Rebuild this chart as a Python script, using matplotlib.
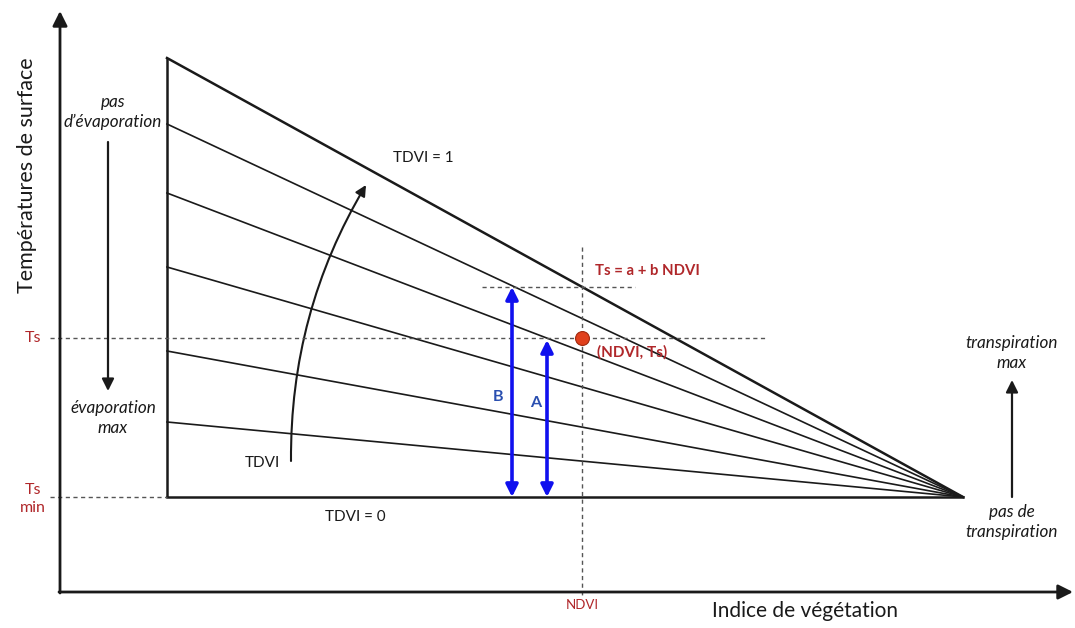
import matplotlib
matplotlib.use("Agg")
import matplotlib.pyplot as plt
from matplotlib.patches import FancyArrowPatch

plt.rcParams['font.family'] = ['Lato', 'DejaVu Sans']

# ---- diagram geometry (pixel-like units, y downwards) ----
left_x = 167
apex = (963, 497)
top_y = 58
isoline_left_y = [124, 193, 267, 351, 422]   # intermediate TDVI isolines at left edge
ts_y = 338          # observed Ts level
tsmin_y = 497       # Ts min level
ndvi_x = 582        # observed NDVI
b_top_y = 287       # top of arrow B (dry edge at NDVI)
a_top_y = 340       # top of arrow A
b_x, a_x = 512, 547

axis_origin = (60, 592)
axis_x_end = 1073
axis_y_end = 11

fig = plt.figure(figsize=(10.75, 6.28), dpi=100)
ax = fig.add_axes([0, 0, 1, 1])
ax.set_xlim(0, 1075)
ax.set_ylim(628, 0)
ax.axis('off')

K = '#1a1a1a'
RED = '#b0272a'
BLUE = '#1010ee'

# axes arrows
ax.annotate('', xy=(axis_origin[0], axis_y_end), xytext=(axis_origin[0], axis_origin[1] + 1),
            arrowprops=dict(arrowstyle='-|>', color=K, lw=2, mutation_scale=22, shrinkA=0, shrinkB=0))
ax.annotate('', xy=(axis_x_end, axis_origin[1]), xytext=(axis_origin[0] - 1, axis_origin[1]),
            arrowprops=dict(arrowstyle='-|>', color=K, lw=2, mutation_scale=22, shrinkA=0, shrinkB=0))

# triangle
ax.plot([left_x, left_x], [top_y, tsmin_y], color=K, lw=1.8, solid_capstyle='butt')
ax.plot([left_x, apex[0]], [tsmin_y, apex[1]], color=K, lw=1.8)
ax.plot([left_x, apex[0]], [top_y, apex[1]], color=K, lw=1.8)
for y in isoline_left_y:
    ax.plot([left_x, apex[0]], [y, apex[1]], color=K, lw=1.2)

# dashed guide lines
dash = dict(color='#555555', lw=1.0, ls=(0, (3, 2.5)))
ax.plot([50, 765], [ts_y, ts_y], **dash)
ax.plot([50, left_x], [tsmin_y, tsmin_y], **dash)
ax.plot([ndvi_x, ndvi_x], [247, 597], **dash)
ax.plot([482, 635], [b_top_y, b_top_y], **dash)

# blue double arrows
for x, yt in [(b_x, b_top_y), (a_x, a_top_y)]:
    ax.annotate('', xy=(x, yt), xytext=(x, tsmin_y),
                arrowprops=dict(arrowstyle='<|-|>', color=BLUE, lw=2.6, mutation_scale=18,
                                shrinkA=0, shrinkB=0))
ax.text(b_x - 14, 397, 'B', color='#2a4fb0', fontsize=11.5, fontweight='bold', ha='center', va='center')
ax.text(a_x - 11, 403, 'A', color='#2a4fb0', fontsize=11.5, fontweight='bold', ha='center', va='center')

# observed point
ax.plot([ndvi_x], [ts_y], 'o', ms=10, mfc='#e0401c', mec='#a02a10', mew=0.8, zorder=5)
ax.text(597, 352, '(NDVI, Ts)', color=RED, fontsize=11, fontweight='bold', ha='left', va='center')
ax.text(595, 271, 'Ts = a + b NDVI', color=RED, fontsize=10.7, fontweight='bold', ha='left', va='center')

# curved TDVI arrow
arc = FancyArrowPatch((291, 461), (366, 185), connectionstyle='arc3,rad=-0.14',
                      arrowstyle='-|>', mutation_scale=16, color=K, lw=1.5, shrinkA=0, shrinkB=0)
ax.add_patch(arc)
ax.text(262, 463, 'TDVI', color=K, fontsize=11, ha='center', va='center')
ax.text(423, 158, 'TDVI = 1', color=K, fontsize=11, ha='center', va='center')
ax.text(355, 517, 'TDVI = 0', color=K, fontsize=11, ha='center', va='center')

# left annotations
ita = dict(color=K, fontsize=12.3, style='italic', ha='center', va='center', linespacing=1.3)
ax.text(113, 112, 'pas\nd\u2019évaporation', **ita)
ax.annotate('', xy=(108, 391), xytext=(108, 142),
            arrowprops=dict(arrowstyle='-|>', color=K, lw=1.6, mutation_scale=18, shrinkA=0, shrinkB=0))
ax.text(113, 418, 'évaporation\nmax', **ita)
ax.text(33, 338, 'Ts', color=RED, fontsize=11.5, ha='center', va='center')
ax.text(33, 499, 'Ts\nmin', color=RED, fontsize=11.5, ha='center', va='center', linespacing=1.45)

# right annotations
ax.text(1012, 353, 'transpiration\nmax', **ita)
ax.annotate('', xy=(1012, 380), xytext=(1012, 497),
            arrowprops=dict(arrowstyle='-|>', color=K, lw=1.6, mutation_scale=18, shrinkA=0, shrinkB=0))
ax.text(1012, 522, 'pas de\ntranspiration', **ita)

# axis labels
ax.text(27, 175, 'Températures de surface', color=K, fontsize=15.5, rotation=90,
        ha='center', va='center')
ax.text(805, 611, 'Indice de végétation', color=K, fontsize=15, ha='center', va='center')
ax.text(ndvi_x, 605, 'NDVI', color=RED, fontsize=9.5, ha='center', va='center')

fig.savefig('out.png', dpi=100)
